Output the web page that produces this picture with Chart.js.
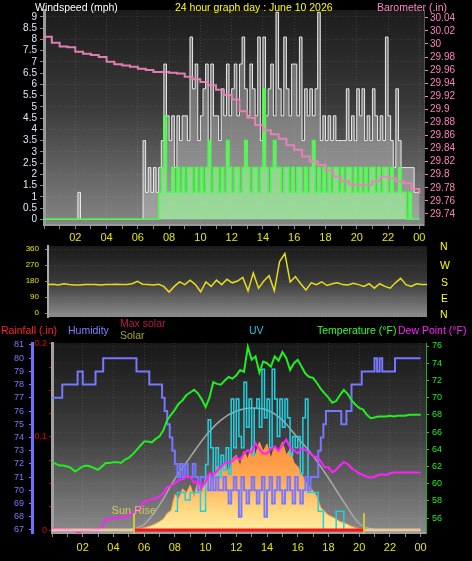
<!doctype html>
<html lang="en">
<head>
<meta charset="utf-8">
<title>24 hour graph</title>
<style>
  * { margin: 0; padding: 0; }
  body { background: #000; width: 472px; height: 561px; overflow: hidden; position: relative;
         font-family: "Liberation Sans", Arial, sans-serif; }
  canvas { position: absolute; left: 0; }
  .lbl { position: absolute; font-size: 10.5px; line-height: 12px; white-space: nowrap; }
</style>
</head>
<body>
<canvas id="windChart" width="472" height="246" style="top:0"></canvas>
<canvas id="dirChart" width="472" height="78" style="top:244px"></canvas>
<canvas id="wxChart" width="472" height="226" style="top:335px"></canvas>

<div class="lbl" style="left:35px;top:1px;color:#fff">Windspeed (mph)</div>
<div class="lbl" style="left:175px;top:1px;color:#ffff00">24 hour graph day : June 10 2026</div>
<div class="lbl" style="left:377px;top:1px;color:#ff88c8">Barometer (.in)</div>

<div class="lbl" style="left:440px;top:240px;color:#ffff00">N</div>
<div class="lbl" style="left:440px;top:259px;color:#ffff00">W</div>
<div class="lbl" style="left:441px;top:276px;color:#ffff00">S</div>
<div class="lbl" style="left:441px;top:292px;color:#ffff00">E</div>
<div class="lbl" style="left:440px;top:308px;color:#ffff00">N</div>

<div class="lbl" style="left:1px;top:324px;color:#ff2020">Rainfall (.in)</div>
<div class="lbl" style="left:68px;top:324px;color:#8080ff">Humidity</div>
<div class="lbl" style="left:120px;top:317px;color:#c01848">Max solar</div>
<div class="lbl" style="left:120px;top:329px;color:#a8a830">Solar</div>
<div class="lbl" style="left:249px;top:324px;color:#20c8e8">UV</div>
<div class="lbl" style="left:317px;top:324px;color:#30ff30">Temperature (°F)</div>
<div class="lbl" style="left:398px;top:324px;color:#ff20ff">Dew Point (°F)</div>

<script src="https://cdn.jsdelivr.net/npm/chart.js"></script>
<script>
// ---- data (hour of day on x) ----
const hourTicks = [0,1,2,3,4,5,6,7,8,9,10,11,12,13,14,15,16,17,18,19,20,21,22,23,24];
const windTicks = [0,0.5,1,1.5,2,2.5,3,3.5,4,4.5,5,5.5,6,6.5,7,7.5,8,8.5,9];
const baroTicks = [29.74,29.76,29.78,29.8,29.82,29.84,29.86,29.88,29.9,29.92,29.94,29.96,29.98,30,30.02,30.04];
const dirTicks = [0,90,180,270,360];
const humTicks = [67,68,69,70,71,72,73,74,75,76,77,78,79,80,81];
const rainTicks = [0,0.025,0.05,0.075,0.1,0.125,0.15,0.175,0.2];
const tempTicks = [56,58,60,62,64,66,68,70,72,74,76];

// wind gust, mph, every 10 min
const windGust = [
  0,0,0,0,0,0,  0,0,0,0,0,0,  0,1.2,0,0,0,0,  0,0,0,0,0,0,  0,0,0,0,0,0,  0,0,0,0,0,0,
  0,0,3.5,1.2,2.3,1.2,  2.3,1.2,2.3,3.5,6.9,4.6,  3.5,4.6,2.3,4.6,3.5,4.6,  4.6,3.5,8.1,5.8,6.9,3.5,
  4.6,5.8,6.9,3.5,6.9,4.6,  4.6,3.5,5.8,4.6,6.9,4.6,  5.8,6.9,4.6,6.9,8.1,5.8,  4.6,6.9,5.8,4.6,8.1,3.5,
  8.1,4.6,5.8,6.9,4.6,9.2,  5.8,4.6,8.1,5.8,4.6,6.9,  6.9,4.6,8.1,3.5,5.8,4.6,  5.8,4.6,5.8,9.2,3.5,4.6,
  3.5,4.6,3.5,4.6,3.5,3.5,  3.5,3.5,5.8,3.5,4.6,3.5,  5.8,4.6,5.8,3.5,4.6,3.5,  5.8,4.6,3.5,4.6,3.5,8.1,
  4.6,3.5,2.3,5.8,3.5,2.3,  2.3,2.3,2.3,2.3,1.2,1.2,  1.2
];
// average wind speed, mph, every 10 min
const windAvg = [
  0,0,0,0,0,0,  0,0,0,0,0,0,  0,0,0,0,0,0,  0,0,0,0,0,0,  0,0,0,0,0,0,  0,0,0,0,0,0,
  0,0,0,0,0,0,  0,0,1.2,2.3,4.6,1.2,  1.2,2.3,1.2,2.3,1.2,2.3,  1.2,2.3,2.3,1.2,2.3,1.2,
  2.3,1.2,2.3,3.5,1.2,2.3,  2.3,1.2,2.3,1.2,3.5,2.3,  1.2,2.3,2.3,1.2,2.3,3.5,  2.3,1.2,2.3,2.3,1.2,2.3,
  5.8,2.3,1.2,2.3,3.5,2.3,  2.3,1.2,2.3,2.3,1.2,2.3,  1.2,2.3,2.3,1.2,2.3,1.2,  2.3,3.5,1.2,2.3,1.2,2.3,
  1.2,2.3,1.2,2.3,2.3,1.2,  2.3,1.2,2.3,2.3,1.2,2.3,  1.2,2.3,1.2,2.3,1.2,2.3,  2.3,1.2,2.3,1.2,2.3,2.3,
  1.2,2.3,1.2,1.2,2.3,1.2,  1.2,0,1.2,0,0,0,  0
];
// barometer, inHg, every 30 min
const baroVals = [
  30.011,30.002,29.996,29.995,29.988,29.985,29.983,29.980,29.973,29.969,29.967,29.965,
  29.962,29.960,29.957,29.957,29.956,29.955,29.950,29.946,29.942,29.937,29.930,29.922,
  29.915,29.897,29.887,29.876,29.868,29.862,29.855,29.845,29.838,29.828,29.820,29.815,
  29.806,29.797,29.790,29.785,29.784,29.785,29.790,29.797,29.795,29.790,29.787,29.778,29.770
];
// wind direction, degrees, every 20 min
const windDir = [
  160,162,158, 165,160,158, 158,160,160, 160,158,160, 160,162,160, 160,165,178,
  162,160,158, 162,150,118, 150,175,160, 185,160,120, 175,150,185, 160,190,170,
  180,200,125, 225,140,180, 210,125,290, 335,175,205, 165,130,170, 160,175,155,
  165,170,160, 158,168,160, 150,165,140, 165,150,140, 170,195,160, 150,165,160, 160
];
// humidity, %, every 10 min
const humVals = [
  77,77,77,77,78,78, 78,78,78,78,79,79, 78,78,78,78,78,79, 79,79,80,80,80,80,
  80,80,80,80,80,80, 80,80,80,79,79,79, 79,79,78,78,78,78, 78,77,76,75,74,73,
  72,71,72,71,72,71, 71,72,71,70,71,71, 71,70,71,70,71,70, 70,71,70,69,70,71,
  70,68,71,70,69,70, 71,70,69,70,71,68, 70,71,69,70,71,70, 69,70,71,70,69,71,
  70,69,70,71,70,71, 71,71,73,74,75,76, 76,76,76,76,76,75, 75,76,76,78,78,78,
  78,79,79,79,79,79, 80,79,80,79,79,79, 79,79,80,80,80,80, 80,80,80,80,80,80, 80
];
// temperature and dew point, °F, every 15 min
const tempVals = [
  62.5,62.3,62.1,62.1, 62.0,61.8,61.4,61.7, 62.0,62.1,62.0,61.8, 61.6,62.0,62.4,62.4,
  62.5,62.5,62.4,62.8, 63.0,63.4,63.9,64.4, 64.9,64.9,64.8,65.2, 65.5,66.2,67.4,68.0,
  68.6,69.3,69.7,70.3, 70.6,70.9,70.5,69.8, 68.9,70.0,71.8,71.6, 71.5,72.0,72.4,72.2,
  72.6,73.2,73.0,75.9, 74.4,74.8,72.9,74.2, 74.0,73.6,74.8,74.3, 75.3,74.6,73.2,74.0,
  74.4,73.6,72.8,72.4, 72.3,71.7,71.0,70.5, 70.0,69.4,69.6,70.3, 70.9,70.4,69.7,69.2,
  68.8,68.6,68.0,67.6, 67.7,67.8,67.8,67.8, 67.9,67.8,67.9,67.9, 67.9,68.0,68.0,68.0, 68.0
];
const dewVals = [
  54.7,54.8,54.7,54.7, 54.6,54.7,54.5,54.3, 54.6,54.5,54.6,54.7, 54.7,54.8,55.9,55.9,
  56.0,56.0,56.1,56.1, 56.3,56.7,56.8,57.3, 57.9,58.0,58.2,58.3, 58.5,58.9,59.6,59.8,
  60.0,60.4,60.5,60.8, 60.8,60.1,60.3,59.6, 60.2,61.2,61.0,61.5, 62.0,62.4,62.4,62.6,
  63.1,62.8,63.5,63.9, 63.6,64.7,64.0,63.5, 63.5,64.0,64.3,63.8, 64.5,65.1,64.2,63.9,
  63.5,64.1,63.9,63.6, 63.2,63.1,62.6,61.9, 61.9,61.3,61.6,62.1, 62.5,62.3,61.8,61.5,
  61.2,61.0,60.8,60.7, 60.8,61.0,61.1,61.0, 61.2,61.3,61.3,61.3, 61.3,61.3,61.3,61.3, 61.3
];
// UV index, every 10 min (null = no reading drawn)
const uvVals = [
  null,null,null,null,null,null, null,null,null,null,null,null, null,null,null,null,null,null,
  null,null,null,null,null,null, null,null,null,null,null,null, null,null,null,null,null,null,
  null,null,null,null,null,null, null,null,null,null,null,null,
  1.0,2.0,2.0,2.0,1.6,1.6, 2.0,2.0,2.0,2.0,1.0,1.0, 3.5,5.9,4.4,3.0,4.4,2.8,
  4.0,3.2,4.4,3.0,7.0,4.4, 7.0,5.0,4.4,7.9,5.5,7.0, 4.0,6.5,7.0,5.5,8.6,6.0,
  7.0,4.4,8.6,7.0,5.0,7.0, 5.5,7.0,6.0,4.0,5.0,4.4, 5.0,3.0,6.0,7.0,2.0,2.0,
  2.0,2.0,1.0,1.0,0,0, 0,0,0,1.0,1.0,1.0, 0,null,null,null,null,null,
  null,null,null,null,null,null, null,null,null,null,null,null,
  null,null,null,null,null,null, null,null,null,null,null,null, null
];
// solar radiation, W/m2, every 15 min
const solarVals = [
  0,0,0,0, 0,0,0,0, 0,0,0,0, 0,0,0,0, 0,0,0,0,
  0,2,5,8, 12,18,25,35, 45,60,90,105, 190,170,220,200, 240,180,260,200,
  280,300,260,340, 320,360,300,380, 400,340,420,380, 450,400,470,420, 460,380,450,420,
  470,400,430,360, 340,300,260,230, 210,180,120,100, 80,70,60,45, 40,30,20,12,
  8,4,0,0, 0,0,0,0, 0,0,0,0, 0,0,0,0, 0
];
// max solar, hourly
const maxSolarVals = [null,null,null,null,null,0,30,134,273,390,503,588,636,652,642,588,492,396,278,150,35,0,null,null,null];
// rainfall (.in)
const rainHours = [0,5.33,20.3,24];
const rainVals = [0,0,0,0];
const sunriseHour = 5.33;
const sunsetHour = 20.3;
const sunMarkTop = 90;

// ---- helpers ----
const series = (vals, perHour) => vals.map((v, i) => ({ x: i / perHour, y: v }));
const fixTicks = list => scale => { scale.ticks = list.map(v => ({ value: v })); };
const fixWidth = w => scale => { scale.width = w; scale.paddingTop = 0; scale.paddingBottom = 0; };
const fixHeight = h => scale => { scale.height = h; scale.paddingLeft = 0; scale.paddingRight = 0; };
const hourLabel = v => (v > 0 && v % 2 === 0) ? String(v % 24).padStart(2, '0') : '';
const dotted = 'rgba(255,255,255,0.13)';

const panelBg = {
  id: 'panelBg',
  beforeDraw(chart, args, opts) {
    const { ctx, chartArea: a } = chart;
    const g = ctx.createLinearGradient(0, a.top, 0, a.bottom);
    opts.stops.forEach(s => g.addColorStop(s[0], s[1]));
    ctx.save();
    ctx.fillStyle = g;
    ctx.fillRect(a.left, a.top, a.width, a.height);
    ctx.restore();
  }
};

const sunMarks = {
  id: 'sunMarks',
  afterDatasetsDraw(chart) {
    const { ctx, chartArea: a, scales } = chart;
    const top = scales.solar.getPixelForValue(sunMarkTop);
    ctx.save();
    ctx.strokeStyle = '#cfc640';
    ctx.lineWidth = 2;
    [sunriseHour, sunsetHour].forEach(h => {
      const px = Math.round(scales.x.getPixelForValue(h));
      ctx.beginPath();
      ctx.moveTo(px, a.bottom + 1);
      ctx.lineTo(px, top);
      ctx.stroke();
    });
    ctx.fillStyle = '#d0c858';
    ctx.font = '11px "Liberation Sans", Arial, sans-serif';
    ctx.textAlign = 'center';
    ctx.textBaseline = 'bottom';
    ctx.fillText('Sun Rise', scales.x.getPixelForValue(sunriseHour), top + 3);
    ctx.restore();
  }
};

Chart.defaults.font.family = '"Liberation Sans", Arial, sans-serif';
Chart.defaults.animation = false;
Chart.defaults.plugins.legend.display = false;
Chart.defaults.plugins.tooltip.enabled = false;
Chart.defaults.elements.point.radius = 0;
Chart.defaults.elements.line.tension = 0;

// ---- top: wind speed + barometer ----
new Chart(document.getElementById('windChart'), {
  type: 'line',
  data: {
    datasets: [
      { label: 'Barometer', data: series(baroVals, 2), yAxisID: 'baro', borderColor: 'rgba(235,130,185,0.95)',
        borderWidth: 2, stepped: true, order: 0 },
      { label: 'Wind speed', data: series(windAvg, 6), yAxisID: 'wind', borderColor: '#44ff44',
        backgroundColor: 'rgba(150,255,150,0.6)', fill: 'origin', borderWidth: 1.5, stepped: true, order: 1 },
      { label: 'Gust', data: series(windGust, 6), yAxisID: 'wind', borderColor: 'rgba(240,240,240,0.95)',
        backgroundColor: 'rgba(210,210,210,0.42)', fill: 'origin', borderWidth: 1, stepped: true, order: 2 }
    ]
  },
  plugins: [panelBg],
  options: {
    responsive: false,
    devicePixelRatio: 1,
    layout: { padding: { top: 10, left: 0, right: 0, bottom: 0 } },
    plugins: { panelBg: { stops: [[0, '#1c1c1c'], [0.45, '#3a3a3a'], [1, '#858585']] } },
    scales: {
      x: {
        type: 'linear', min: 0, max: 24.3,
        afterBuildTicks: fixTicks(hourTicks), afterFit: fixHeight(21),
        ticks: { color: '#e6e600', font: { size: 11 }, padding: 2, maxRotation: 0, autoSkip: false, callback: hourLabel },
        grid: { color: c => c.tick && c.tick.value % 2 === 0 ? dotted : 'transparent', tickColor: '#8a8a8a', tickLength: 4 },
        border: { color: '#9a9a9a', width: 2, dash: [1, 2] }
      },
      wind: {
        position: 'left', min: -0.25, max: 9.3,
        afterBuildTicks: fixTicks(windTicks), afterFit: fixWidth(44),
        ticks: { color: '#dfe8ff', font: { size: 10 }, padding: 3, autoSkip: false, callback: v => String(v) },
        grid: { color: c => c.tick && Number.isInteger(c.tick.value) ? 'rgba(255,255,255,0.1)' : 'transparent',
                tickColor: '#8a8a8a', tickLength: 4 },
        border: { color: '#9a9a9a', width: 3, dash: [1, 2] }
      },
      baro: {
        position: 'right', min: 29.723, max: 30.052,
        afterBuildTicks: fixTicks(baroTicks), afterFit: fixWidth(48),
        ticks: { color: '#ff80c0', font: { size: 10 }, padding: 2, autoSkip: false, callback: v => String(Number(v.toFixed(2))) },
        grid: { drawOnChartArea: false, tickColor: '#ff80c0', tickLength: 4 },
        border: { color: '#555', width: 1 }
      }
    }
  }
});

// ---- middle: wind direction ----
new Chart(document.getElementById('dirChart'), {
  type: 'line',
  data: {
    datasets: [
      { label: 'Direction', data: series(windDir, 3), yAxisID: 'dir', borderColor: '#e6dc1e', borderWidth: 1.5 }
    ]
  },
  plugins: [panelBg],
  options: {
    responsive: false,
    devicePixelRatio: 1,
    layout: { padding: { top: 2, left: 0, right: 45, bottom: 5 } },
    plugins: { panelBg: { stops: [[0, '#1a1a1a'], [0.5, '#3a3a3a'], [1, '#8c8c8c']] } },
    scales: {
      x: { type: 'linear', min: 0, max: 24, display: false },
      dir: {
        position: 'left', min: -22, max: 377,
        afterBuildTicks: fixTicks(dirTicks), afterFit: fixWidth(48),
        ticks: { color: '#e6e600', font: { size: 8 }, padding: 6, autoSkip: false },
        grid: { color: 'rgba(255,255,255,0.1)', tickColor: '#888', tickLength: 3 },
        border: { color: '#aaa', width: 2, dash: [1, 2] }
      }
    }
  }
});

// ---- bottom: temperature, dew point, humidity, UV, solar, rain ----
new Chart(document.getElementById('wxChart'), {
  type: 'line',
  data: {
    datasets: [
      { label: 'Rainfall', data: rainHours.map((h, i) => ({ x: h, y: rainVals[i] })), yAxisID: 'rain', borderWidth: 3,
        borderColor: '#ff1010',
        segment: { borderColor: c => c.p0DataIndex === 1 ? '#ff1010' : 'rgba(255,225,170,0.7)' }, order: 0 },
      { label: 'Temperature', data: series(tempVals, 4), yAxisID: 'temp', borderColor: '#22ee22', borderWidth: 2, order: 1 },
      { label: 'Dew Point', data: series(dewVals, 4), yAxisID: 'temp', borderColor: '#ff20ff', borderWidth: 2, order: 2 },
      { label: 'Humidity', data: series(humVals, 6), yAxisID: 'hum', borderColor: '#7777ff', borderWidth: 2, stepped: true, order: 3 },
      { label: 'UV', data: series(uvVals, 6), yAxisID: 'uv', borderColor: '#22d0e0', borderWidth: 1.5, stepped: true, order: 4 },
      { label: 'Max solar', data: series(maxSolarVals, 1), yAxisID: 'solar', borderColor: '#a8a8a8', borderWidth: 1.5,
        cubicInterpolationMode: 'monotone', order: 5 },
      { label: 'Solar', data: series(solarVals, 4), yAxisID: 'solar', borderColor: '#ff9a40', borderWidth: 1, fill: 'origin',
        backgroundColor: c => {
          const a = c.chart.chartArea;
          if (!a) return 'rgba(255,170,60,0.9)';
          const g = c.chart.ctx.createLinearGradient(0, a.top, 0, a.bottom);
          g.addColorStop(0, '#ff7a2a');
          g.addColorStop(0.5, '#ff8a35');
          g.addColorStop(0.72, '#ffaa55');
          g.addColorStop(0.88, '#ffd880');
          g.addColorStop(1, '#fff0a8');
          return g;
        }, order: 6 }
    ]
  },
  plugins: [panelBg, sunMarks],
  options: {
    responsive: false,
    devicePixelRatio: 1,
    layout: { padding: { top: 8, left: 0, right: 0, bottom: 0 } },
    plugins: { panelBg: { stops: [[0, '#181818'], [0.5, '#404040'], [1, '#8a8a8a']] } },
    scales: {
      x: {
        type: 'linear', min: 0, max: 24.35,
        afterBuildTicks: fixTicks(hourTicks), afterFit: fixHeight(28),
        ticks: { color: '#e6e600', font: { size: 11 }, padding: 4, maxRotation: 0, autoSkip: false, callback: hourLabel },
        grid: { color: c => c.tick && c.tick.value % 2 === 0 ? dotted : 'transparent', tickColor: '#8a8a8a', tickLength: 4 },
        border: { color: '#a0a0a0', width: 2, dash: [1, 2] }
      },
      hum: {
        position: 'left', weight: 1, min: 66.77, max: 81.15,
        afterBuildTicks: fixTicks(humTicks), afterFit: fixWidth(32),
        ticks: { color: '#7878ff', font: { size: 9 }, padding: 5, autoSkip: false },
        grid: { drawOnChartArea: false, tickColor: '#7878ff', tickLength: 3 },
        border: { color: '#7070ff', width: 3 }
      },
      rain: {
        position: 'left', weight: 0, min: -0.0032, max: 0.201,
        afterBuildTicks: fixTicks(rainTicks), afterFit: fixWidth(20),
        ticks: { color: '#e00000', font: { size: 9 }, padding: 2, autoSkip: false,
                 callback: v => { const r = Number(v.toFixed(3)); return (r === 0 || r === 0.1 || r === 0.2) ? String(r) : ''; } },
        grid: { drawOnChartArea: false, tickColor: '#d00000', tickLength: 3 },
        border: { color: '#a0a0a0', width: 3 }
      },
      temp: {
        position: 'right', min: 54.26, max: 76.35,
        afterBuildTicks: fixTicks(tempTicks), afterFit: fixWidth(46),
        ticks: { color: '#22ee22', font: { size: 9 }, padding: 3, autoSkip: false },
        grid: { color: 'rgba(255,255,255,0.08)', tickColor: '#22cc22', tickLength: 3 },
        border: { color: '#22aa22', width: 1, dash: [1, 2] }
      },
      solar: { display: false, min: -16, max: 1000 },
      uv: { display: false, min: -0.16, max: 10 }
    }
  }
});
</script>
</body>
</html>
